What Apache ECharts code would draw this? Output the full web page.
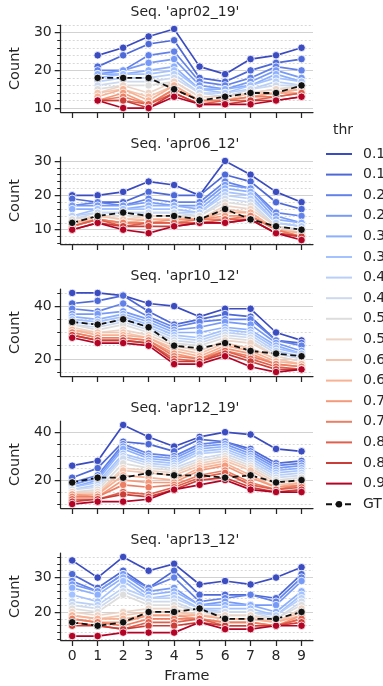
<!DOCTYPE html>
<html>
<head>
<meta charset="utf-8">
<script src="https://cdn.jsdelivr.net/npm/echarts@6/dist/echarts.min.js"></script>
<style>
  html, body {margin: 0; padding: 0; background: #fff;}
  #chart {width: 383px; height: 686px;}
</style>
</head>
<body>
<div id="chart"></div>
<script>
const frames = [0, 1, 2, 3, 4, 5, 6, 7, 8, 9];
const thresholds = ['0.1', '0.15', '0.2', '0.25', '0.3', '0.35', '0.4', '0.45', '0.5',
  '0.55', '0.6', '0.65', '0.7', '0.75', '0.8', '0.85', '0.9'];
// coolwarm, sampled at 17 steps
const thrColors = ['#3b4cc0', '#4d68d7', '#6282ea', '#779af7', '#8db0fe', '#a3c2ff', '#b8d0f9',
  '#ccd9ee', '#dddddd', '#ecd3c5', '#f5c4ac', '#f7b194', '#f49a7b', '#ec7f63', '#de604d',
  '#cb3e38', '#b40426'];
const sequences = ['apr02_19', 'apr06_12', 'apr10_12', 'apr12_19', 'apr13_12'];

// one row per threshold, one column per frame
const apr02_19 = [
  [null, 24, 26, 29, 31, 21, 19, 23, 24, 26],
  [null, 21, 24, 27, 28, 18, 17, 20, 22, 23],
  [null, 20, 20, 24, 25, 17, 16, 18, 21, 20],
  [null, 19, 20, 22, 23, 16, 15, 17, 20, 18],
  [null, 19, 19, 20, 21, 15, 15, 16, 19, 17],
  [null, 18, 19, 19, 20, 15, 14, 16, 18, 17],
  [null, 17, 18, 18, 19, 14, 14, 15, 17, 16],
  [null, 16, 17, 17, 18, 14, 13, 15, 16, 16],
  [null, 15, 16, 16, 17, 13, 13, 14, 15, 16],
  [null, 14, 16, 14, 17, 13, 13, 14, 15, 15],
  [null, 14, 15, 13, 16, 12, 12, 14, 14, 15],
  [null, 13, 15, 12, 16, 12, 12, 13, 14, 15],
  [null, 12, 14, 11, 15, 12, 12, 13, 14, 14],
  [null, 12, 13, 11, 15, 12, 12, 13, 13, 14],
  [null, 12, 12, 11, 14, 11, 12, 12, 13, 14],
  [null, 12, 12, 10, 14, 11, 11, 12, 12, 13],
  [null, 12, 10, 10, 13, 11, 11, 11, 12, 13]
];
const apr02_19GT = [null, 18, 18, 18, 15, 12, 13, 14, 14, 16];

const apr06_12 = [
  [20, 20, 21, 24, 23, 20, 30, 26, 21, 18],
  [19, 18, 18, 21, 20, 20, 26, 24, 18, 16],
  [17, 18, 17, 19, 18, 18, 24, 22, 15, 14],
  [17, 17, 17, 18, 17, 17, 23, 22, 14, 12],
  [16, 16, 16, 17, 17, 16, 22, 21, 13, 12],
  [14, 16, 16, 16, 16, 15, 21, 20, 12, 11],
  [14, 15, 15, 15, 15, 15, 20, 19, 12, 11],
  [13, 15, 15, 15, 15, 14, 19, 18, 11, 10],
  [13, 14, 14, 14, 14, 14, 18, 17, 11, 10],
  [12, 14, 13, 14, 14, 13, 17, 16, 11, 9],
  [12, 14, 13, 13, 13, 13, 16, 15, 10, 9],
  [12, 13, 12, 13, 13, 13, 15, 15, 10, 9],
  [11, 13, 12, 12, 13, 13, 14, 14, 10, 8],
  [11, 13, 12, 12, 12, 13, 13, 14, 10, 8],
  [11, 13, 11, 12, 12, 12, 13, 13, 9, 8],
  [10, 12, 11, 11, 11, 12, 12, 13, 9, 8],
  [10, 12, 10, 9, 11, 12, 12, 13, 9, 7]
];
const apr06_12GT = [12, 14, 15, 14, 14, 13, 16, 13, 11, 10];

const apr10_12 = [
  [45, 45, 44, 41, 40, 36, 39, 39, 30, 27],
  [41, 42, 44, 38, 33, 35, 37, 36, 27, 26],
  [39, 38, 41, 36, 32, 34, 35, 35, 27, 25],
  [37, 37, 38, 35, 31, 32, 34, 33, 26, 23],
  [36, 35, 37, 34, 30, 30, 32, 31, 25, 22],
  [35, 34, 36, 33, 29, 28, 31, 30, 24, 22],
  [34, 33, 35, 32, 28, 27, 30, 29, 23, 21],
  [33, 32, 34, 31, 27, 26, 29, 28, 22, 20],
  [33, 31, 33, 30, 26, 25, 28, 27, 21, 19],
  [32, 30, 31, 29, 25, 23, 27, 26, 21, 19],
  [31, 30, 30, 28, 24, 22, 26, 24, 20, 18],
  [31, 29, 29, 28, 23, 21, 25, 23, 19, 18],
  [30, 28, 28, 27, 22, 20, 24, 22, 18, 17],
  [30, 28, 28, 27, 21, 20, 23, 21, 18, 17],
  [29, 27, 27, 26, 20, 19, 23, 20, 17, 16],
  [29, 27, 27, 26, 19, 19, 22, 19, 16, 16],
  [28, 26, 26, 25, 18, 18, 21, 17, 15, 16]
];
const apr10_12GT = [34, 33, 35, 32, 25, 24, 26, 23, 22, 21];

const apr12_19 = [
  [26, 28, 43, 38, 34, 38, 40, 39, 33, 32],
  [21, 25, 36, 35, 32, 37, 36, 33, 27, 28],
  [19, 22, 35, 31, 30, 35, 36, 32, 26, 27],
  [18, 21, 34, 30, 29, 34, 35, 31, 25, 26],
  [17, 20, 33, 29, 28, 33, 34, 30, 24, 25],
  [17, 19, 31, 28, 27, 32, 33, 29, 23, 24],
  [16, 18, 30, 27, 26, 31, 32, 28, 22, 23],
  [16, 17, 29, 26, 25, 29, 31, 27, 21, 22],
  [15, 16, 27, 25, 24, 28, 30, 26, 20, 21],
  [15, 15, 25, 24, 23, 27, 29, 25, 19, 20],
  [14, 14, 24, 23, 22, 26, 28, 24, 18, 19],
  [14, 14, 22, 21, 20, 25, 27, 22, 17, 19],
  [14, 13, 20, 19, 19, 24, 26, 21, 17, 18],
  [13, 13, 18, 17, 18, 22, 24, 19, 16, 18],
  [12, 12, 15, 14, 17, 21, 23, 18, 16, 17],
  [11, 12, 14, 13, 16, 20, 21, 17, 15, 16],
  [10, 11, 11, 12, 16, 18, 20, 16, 15, 15]
];
const apr12_19GT = [19, 21, 21, 23, 22, 22, 21, 22, 19, 20];

const apr13_12 = [
  [35, 30, 36, 32, 34, 28, 29, 28, 30, 33],
  [31, 27, 32, 27, 32, 25, 25, 25, 24, 31],
  [29, 26, 31, 27, 30, 23, 24, 25, 23, 30],
  [28, 26, 31, 26, 27, 22, 23, 22, 22, 29],
  [27, 25, 30, 25, 26, 22, 22, 22, 20, 26],
  [25, 23, 29, 24, 25, 21, 21, 21, 19, 25],
  [23, 22, 27, 24, 24, 21, 20, 20, 19, 24],
  [22, 21, 26, 23, 23, 20, 20, 20, 18, 23],
  [21, 20, 25, 22, 22, 20, 19, 19, 18, 22],
  [20, 19, 20, 21, 21, 19, 19, 19, 17, 21],
  [19, 18, 19, 20, 20, 19, 18, 18, 17, 20],
  [19, 18, 18, 19, 19, 19, 18, 18, 17, 19],
  [18, 17, 17, 19, 19, 18, 17, 17, 16, 19],
  [18, 17, 16, 18, 18, 18, 17, 17, 16, 18],
  [17, 16, 15, 17, 17, 18, 16, 16, 16, 18],
  [16, 16, 15, 16, 16, 17, 16, 16, 16, 17],
  [13, 13, 14, 14, 14, 17, 15, 15, 16, 16]
];
const apr13_12GT = [17, 16, 17, 20, 20, 21, 18, 18, 18, 20];

const countData = [apr02_19, apr06_12, apr10_12, apr12_19, apr13_12];
const gtData = [apr02_19GT, apr06_12GT, apr10_12GT, apr12_19GT, apr13_12GT];

// y axis limits and ticks per panel
const yLimits = [[8.95, 32.05], [5.85, 31.15], [13.5, 46.5], [8.35, 44.65], [11.85, 37.15]];
const majorTicks = [[10, 20, 30], [10, 20, 30], [20, 40], [20, 40], [20, 30]];
const minorTicks = [
  [12, 14, 16, 18, 22, 24, 26, 28, 32],
  [6, 8, 12, 14, 16, 18, 22, 24, 26, 28],
  [15, 25, 30, 35, 45],
  [10, 15, 25, 30, 35],
  [12, 14, 16, 18, 22, 24, 26, 28, 32, 34, 36]
];

const ink = '#262626';
const font = 'DejaVu Sans';
const gridTops = [25, 157, 289, 421, 553];
const gridH = 87;

const toPoints = vals => frames.map((f, i) => [f, vals[i]]).filter(p => p[1] != null);

const grids = [], xAxes = [], yAxes = [], series = [], titles = [];
sequences.forEach((seq, p) => {
  grids.push({left: 57, right: 70, top: gridTops[p], height: gridH});
  titles.push({
    text: "Seq. '" + seq + "'", left: 185, top: gridTops[p] - 20, textAlign: 'center', padding: 0,
    textStyle: {fontFamily: font, fontSize: 14, fontWeight: 'normal', color: ink}
  });
  const last = p === sequences.length - 1;
  xAxes.push({
    gridIndex: p, type: 'value', min: -0.45, max: 9.45,
    axisLine: {show: true, onZero: false, lineStyle: {color: ink, width: 1.25}},
    axisTick: {show: true, length: 6, customValues: frames, lineStyle: {color: ink, width: 1.25}},
    axisLabel: {show: last, customValues: frames, margin: 9, fontFamily: font, fontSize: 14, color: ink},
    splitLine: {show: false},
    name: last ? 'Frame' : '', nameLocation: 'middle', nameGap: 29,
    nameTextStyle: {fontFamily: font, fontSize: 14.5, color: ink}
  });
  yAxes.push({
    gridIndex: p, type: 'value', position: 'left', min: yLimits[p][0], max: yLimits[p][1],
    axisLine: {show: true, onZero: false, lineStyle: {color: ink, width: 1.25}},
    axisTick: {show: true, length: 6, customValues: majorTicks[p], lineStyle: {color: ink, width: 1.25}},
    axisLabel: {customValues: majorTicks[p], margin: 9, fontFamily: font, fontSize: 14, color: ink},
    splitLine: {show: true, lineStyle: {color: '#d2d2d2', width: 1}},
    name: 'Count', nameLocation: 'middle', nameGap: 32,
    nameTextStyle: {fontFamily: font, fontSize: 14.5, color: ink}
  });
  yAxes.push({
    gridIndex: p, type: 'value', position: 'left', min: yLimits[p][0], max: yLimits[p][1],
    axisLine: {show: false, onZero: false},
    axisTick: {show: true, length: 3.5, customValues: minorTicks[p], lineStyle: {color: ink, width: 1}},
    axisLabel: {show: false},
    splitLine: {show: true, lineStyle: {color: '#d8d8d8', width: 1, type: [2, 2]}}
  });
  countData[p].forEach((row, k) => {
    series.push({
      name: thresholds[k], type: 'line', xAxisIndex: p, yAxisIndex: 2 * p,
      data: toPoints(row), color: thrColors[k],
      symbol: 'circle', symbolSize: 7.5,
      lineStyle: {width: 1.7},
      itemStyle: {borderColor: '#fff', borderWidth: 0.8}
    });
  });
  series.push({
    name: 'GT', type: 'line', xAxisIndex: p, yAxisIndex: 2 * p,
    data: toPoints(gtData[p]), color: '#111',
    symbol: 'circle', symbolSize: 7.5,
    lineStyle: {width: 1.8, type: [6, 3.5]},
    itemStyle: {borderColor: '#fff', borderWidth: 0.8}
  });
});

titles.push({
  text: 'thr', left: 333, top: 123, padding: 0,
  textStyle: {fontFamily: font, fontSize: 14, fontWeight: 'normal', color: ink}
});

const chart = echarts.init(document.getElementById('chart'));
chart.setOption({
  animation: false,
  backgroundColor: '#fff',
  textStyle: {fontFamily: font},
  title: titles,
  grid: grids,
  xAxis: xAxes,
  yAxis: yAxes,
  legend: {
    orient: 'vertical', left: 325, top: 147, padding: 0,
    itemWidth: 26, itemHeight: 8, itemGap: 6.6,
    textStyle: {fontFamily: font, fontSize: 14, color: ink, padding: [0, 0, 0, 6]},
    itemStyle: {borderWidth: 0},
    data: thresholds.map(t => ({name: t, icon: 'path://M0,0h26v2h-26z'})).concat([{name: 'GT'}])
  },
  series: series
});
</script>
</body>
</html>
